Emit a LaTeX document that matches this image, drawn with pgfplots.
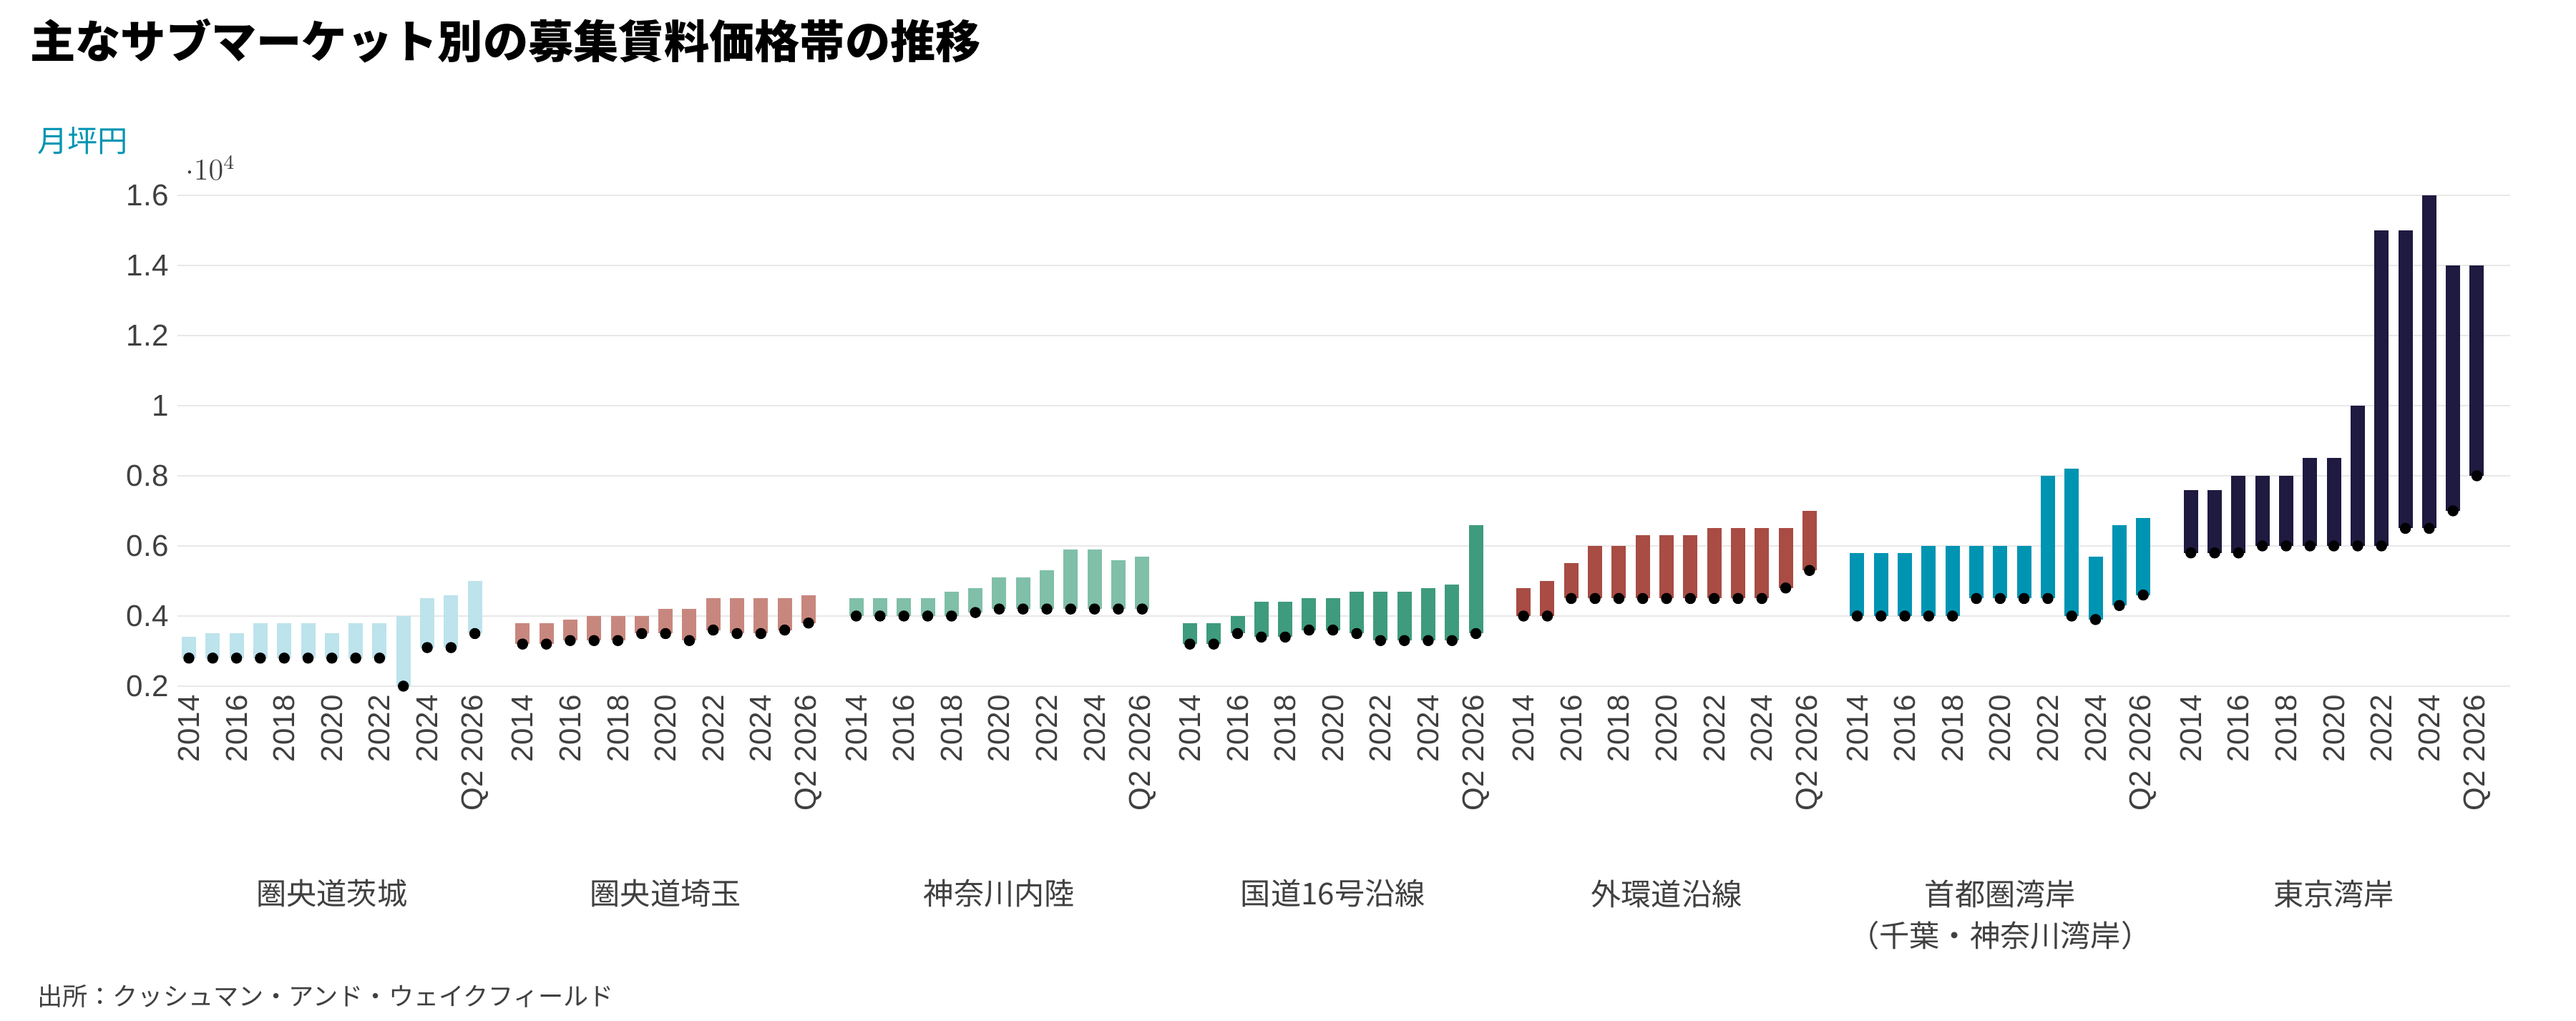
\documentclass[border=0pt]{standalone}
\usepackage{pgfplots}
\pgfplotsset{compat=1.18}
\usepackage{pgfplotstable}
\usepackage{fontspec}
\setmainfont{Liberation Sans}
\newfontfamily\cjk{Noto Sans CJK JP}
\definecolor{ga}{HTML}{BDE3EC}
\definecolor{gb}{HTML}{C8877E}
\definecolor{gc}{HTML}{80BFA8}
\definecolor{gd}{HTML}{3F9B7E}
\definecolor{ge}{HTML}{A84C44}
\definecolor{gf}{HTML}{0094B3}
\definecolor{gg}{HTML}{1E1A40}
\definecolor{tk}{HTML}{404040}
\pgfplotstableread{
x lo hi
0 2800 3400
1 2800 3500
2 2800 3500
3 2800 3800
4 2800 3800
5 2800 3800
6 2800 3500
7 2800 3800
8 2800 3800
9 2000 4000
10 3100 4500
11 3100 4600
12 3500 5000
}\ga
\pgfplotstableread{
x lo hi
14 3200 3800
15 3200 3800
16 3300 3900
17 3300 4000
18 3300 4000
19 3500 4000
20 3500 4200
21 3300 4200
22 3600 4500
23 3500 4500
24 3500 4500
25 3600 4500
26 3800 4600
}\gb
\pgfplotstableread{
x lo hi
28 4000 4500
29 4000 4500
30 4000 4500
31 4000 4500
32 4000 4700
33 4100 4800
34 4200 5100
35 4200 5100
36 4200 5300
37 4200 5900
38 4200 5900
39 4200 5600
40 4200 5700
}\gc
\pgfplotstableread{
x lo hi
42 3200 3800
43 3200 3800
44 3500 4000
45 3400 4400
46 3400 4400
47 3600 4500
48 3600 4500
49 3500 4700
50 3300 4700
51 3300 4700
52 3300 4800
53 3300 4900
54 3500 6600
}\gd
\pgfplotstableread{
x lo hi
56 4000 4800
57 4000 5000
58 4500 5500
59 4500 6000
60 4500 6000
61 4500 6300
62 4500 6300
63 4500 6300
64 4500 6500
65 4500 6500
66 4500 6500
67 4800 6500
68 5300 7000
}\gE
\pgfplotstableread{
x lo hi
70 4000 5800
71 4000 5800
72 4000 5800
73 4000 6000
74 4000 6000
75 4500 6000
76 4500 6000
77 4500 6000
78 4500 8000
79 4000 8200
80 3900 5700
81 4300 6600
82 4600 6800
}\gf
\pgfplotstableread{
x lo hi
84 5800 7600
85 5800 7600
86 5800 8000
87 6000 8000
88 6000 8000
89 6000 8500
90 6000 8500
91 6000 10000
92 6000 15000
93 6500 15000
94 6500 16000
95 7000 14000
96 8000 14000
}\gg
\newcommand{\rng}[2]{\addplot[only marks, mark=none, error bars/.cd, y dir=plus, y explicit, error mark=none, error bar style={line width=0.2cm, color=#2}] table[x=x, y=lo, y error expr=\thisrow{hi}-\thisrow{lo}] {#1};}
\newcommand{\gname}[2]{\node[font=\cjk\fontsize{12}{14}\selectfont, text=tk] at (axis cs:#1,2000) [yshift=-2.9cm] {#2};}
\begin{document}
\begin{tikzpicture}
\path[use as bounding box] (0,0) rectangle (36,14.27);
\node[anchor=west, font=\cjk\bfseries\fontsize{18}{20}\selectfont, text=black] at (0.3,13.7) {主なサブマーケット別の募集賃料価格帯の推移};
\node[anchor=west, font=\cjk\fontsize{12}{14}\selectfont, text=gf] at (0.4,12.3) {月坪円};
\node[anchor=west, font=\cjk\fontsize{10}{12}\selectfont, text=tk] at (0.4,0.35) {出所：クッシュマン・アンド・ウェイクフィールド};
\begin{axis}[
  scale only axis, width=32.6cm, height=6.86cm,
  at={(2.48cm,4.68cm)}, anchor=south west,
  xmin=-0.48, xmax=97.4, ymin=2000, ymax=16000,
  ytick={2000,4000,...,16000},
  yticklabel style={font=\fontsize{12}{14}\selectfont, text=tk},
  /pgf/number format/assume math mode=true,
  /pgf/number format/1000 sep={,},
  ymajorgrids, grid style={line width=0.8pt, color=black!9},
  axis line style={draw=none}, major tick length=0pt,
  xtick={0,2,...,12,14,16,...,26,28,30,...,40,42,44,...,54,56,58,...,68,70,72,...,82,84,86,...,96},
  xticklabels={2014,2016,2018,2020,2022,2024,Q2 2026,2014,2016,2018,2020,2022,2024,Q2 2026,2014,2016,2018,2020,2022,2024,Q2 2026,2014,2016,2018,2020,2022,2024,Q2 2026,2014,2016,2018,2020,2022,2024,Q2 2026,2014,2016,2018,2020,2022,2024,Q2 2026,2014,2016,2018,2020,2022,2024,Q2 2026},
  xticklabel style={rotate=90, anchor=east, font=\fontsize{12}{14}\selectfont, text=tk},
  clip=false,
]
\rng{\ga}{ga}
\rng{\gb}{gb}
\rng{\gc}{gc}
\rng{\gd}{gd}
\rng{\gE}{ge}
\rng{\gf}{gf}
\rng{\gg}{gg}
\gname{6}{圏央道茨城}
\gname{20}{圏央道埼玉}
\gname{34}{神奈川内陸}
\gname{48}{国道16号沿線}
\gname{62}{外環道沿線}
\gname{76}{首都圏湾岸}
\gname{90}{東京湾岸}
\node[font=\cjk\fontsize{12}{14}\selectfont, text=tk] at (axis cs:76,2000) [yshift=-3.48cm] {（千葉・神奈川湾岸）};
\end{axis}
\end{tikzpicture}
\end{document}
